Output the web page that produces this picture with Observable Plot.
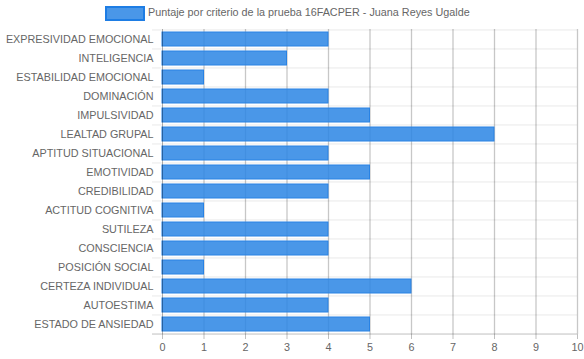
<!DOCTYPE html>
<html>
<head>
<meta charset="utf-8">
<script src="https://cdn.jsdelivr.net/npm/d3@7"></script>
<script src="https://cdn.jsdelivr.net/npm/@observablehq/plot@0.6"></script>
<style>
  body { margin: 0; background: #fff; font-family: "Liberation Sans", Arial, Helvetica, sans-serif; }
  #wrap { width: 584px; height: 359px; position: relative; overflow: hidden; }
  #legend { height: 27px; position: relative; font-size: 10.8px; color: #666; }
  #legend .box { position: absolute; left: 105px; top: 6px; width: 36px; height: 11px;
    background: rgba(42,133,228,0.85); border: 2px solid rgb(30,125,228); }
  #legend .lbl { position: absolute; left: 148px; top: 6px; white-space: nowrap; }
  svg { display: block; }
</style>
</head>
<body>
<div id="wrap">
  <div id="legend"><span class="box"></span><span class="lbl"></span></div>
  <div id="chart"></div>
</div>
<script>
const seriesName = "Puntaje por criterio de la prueba 16FACPER - Juana Reyes Ugalde";
const categories = [
  "EXPRESIVIDAD EMOCIONAL", "INTELIGENCIA", "ESTABILIDAD EMOCIONAL", "DOMINACIÓN",
  "IMPULSIVIDAD", "LEALTAD GRUPAL", "APTITUD SITUACIONAL", "EMOTIVIDAD",
  "CREDIBILIDAD", "ACTITUD COGNITIVA", "SUTILEZA", "CONSCIENCIA",
  "POSICIÓN SOCIAL", "CERTEZA INDIVIDUAL", "AUTOESTIMA", "ESTADO DE ANSIEDAD"
];
const values = [4, 3, 1, 4, 5, 8, 4, 5, 4, 1, 4, 4, 1, 6, 4, 5];
const xTicks = [0, 1, 2, 3, 4, 5, 6, 7, 8, 9, 10];

document.querySelector("#legend .lbl").textContent = seriesName;

const data = categories.map((c, i) => ({category: c, value: values[i]}));

const width = 584, height = 332;
const marginTop = 2, marginBottom = 25, marginLeft = 162, marginRight = 7;
const step = (height - marginTop - marginBottom) / categories.length;

const chart = Plot.plot({
  width, height, marginTop, marginBottom, marginLeft, marginRight,
  style: {fontFamily: "'Liberation Sans', Arial, Helvetica, sans-serif", fontSize: "10.8px", color: "#666", background: "#fff"},
  x: {domain: [0, 10], ticks: xTicks, label: null, tickSize: 5, tickPadding: 4},
  y: {domain: categories, label: null, paddingInner: 0.28, paddingOuter: 0.14, tickSize: 0, tickPadding: 9},
  marks: [
    Plot.ruleY(categories, {y: d => d, dy: -step / 2, x1: 0, x2: 10, insetLeft: -10, stroke: "#000", strokeOpacity: 0.09}),
    Plot.ruleX(xTicks.slice(1), {x: d => d, stroke: "#000", strokeOpacity: 0.22, strokeWidth: 1.3}),
    Plot.barX(data, {x: "value", y: "category", fill: "rgb(42,133,228)", fillOpacity: 0.85,
      stroke: "rgb(40,130,228)", strokeWidth: 1}),
    Plot.ruleY([categories[categories.length - 1]], {y: d => d, dy: step / 2, x1: 0, x2: 10, insetLeft: -10, stroke: "#000", strokeOpacity: 0.25}),
    Plot.ruleX([0], {stroke: "#000", strokeOpacity: 0.3}),
    Plot.axisX({ticks: xTicks, tickSize: 5, tickPadding: 4, stroke: "#000", strokeOpacity: 0.25, fill: "#666", label: null, fontSize: 10.8}),
    Plot.axisY({tickSize: 0, tickPadding: 9, fill: "#666", label: null, fontSize: 10.8})
  ]
});
document.getElementById("chart").appendChild(chart);
</script>
</body>
</html>
